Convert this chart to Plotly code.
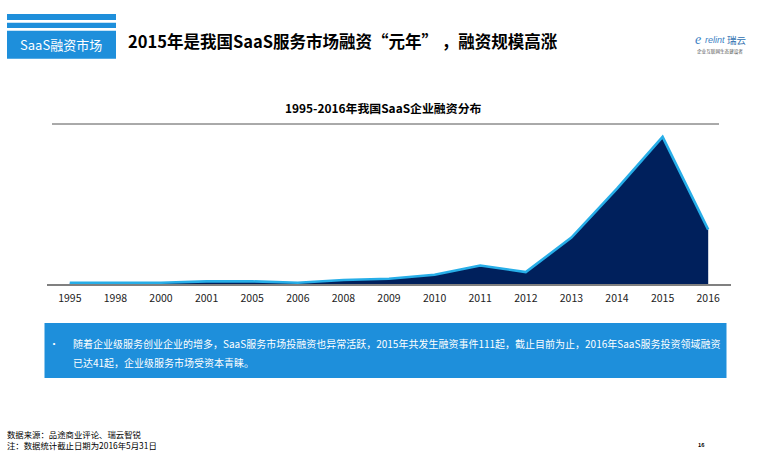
import plotly.graph_objects as go

W = 764
H = 456

years = ["1995", "1998", "2000", "2001", "2005", "2006", "2008", "2009",
         "2010", "2011", "2012", "2013", "2014", "2015", "2016"]
deals = [1, 1, 1, 2, 2, 1, 3, 4, 7, 14, 9, 35, 72, 111, 41]

CJK = "Noto Sans CJK SC"
BLUE = "#1e8fdb"


def px(x):
    return x / W


def py(y):
    return 1 - y / H


def rect(x0, y0, x1, y1, color):
    return dict(type="rect", xref="paper", yref="paper",
                x0=px(x0), x1=px(x1), y0=py(y0), y1=py(y1),
                fillcolor=color, line=dict(width=0), layer="below")


def label(x, y, text, size, color="#000000", anchor="left", family=CJK):
    return dict(xref="paper", yref="paper", x=px(x), y=py(y), text=text,
                showarrow=False, xanchor=anchor, yanchor="middle", align="left",
                font=dict(family=family, size=size, color=color))


fig = go.Figure()

# area with the light blue edge on top
fig.add_trace(go.Scatter(x=years, y=deals, mode="lines", fill="tozeroy",
                         fillcolor="#00205c",
                         line=dict(color="#27aee8", width=2.6),
                         hoverinfo="skip", showlegend=False))

shapes = [
    rect(7, 14, 116, 20, BLUE),
    rect(7, 22.7, 116, 28, BLUE),
    rect(7, 30.7, 116, 58.7, BLUE),
    rect(44.5, 323, 726.5, 378, BLUE),
    # rule under the chart title
    dict(type="line", xref="paper", yref="paper", x0=px(52), x1=px(719),
         y0=py(124), y1=py(124), line=dict(color="#555555", width=1)),
]

annotations = [
    label(61.5, 44.5, "SaaS融资市场", 13, "#ffffff", "center"),
    label(126, 41, "<b>2015年是我国SaaS服务市场融资“元年” ，融资规模高涨</b>", 16.5),
    label(383.5, 107, "<b>1995-2016年我国SaaS企业融资分布</b>", 11.9, anchor="center"),
    label(693, 39.5, "<i>e</i>", 14, "#3a7fc4", family="Liberation Serif"),
    label(703, 40, "<i>relint</i>", 9, "#3a7fc4", family="Liberation Sans"),
    label(725, 39.5, "瑞云", 9.5, "#2f6fb0"),
    label(695, 51.5, "企业互联网生态建设者", 4.6, "#555555"),
    label(47, 343, "•", 10, "#ffffff"),
    label(71, 343, "随着企业级服务创业企业的增多，SaaS服务市场投融资也异常活跃，2015年共发生融资事件111起，截止目前为止，2016年SaaS服务投资领域融资",
          10, "#ffffff"),
    label(71, 362, "已达41起，企业级服务市场受资本青睐。", 10, "#ffffff"),
    label(5, 439.2, "数据来源：品途商业评论、瑞云智锐<br>注：数据统计截止日期为2016年5月31日", 8.4),
    label(701, 445, "<b>16</b>", 5.5, anchor="center"),
]

fig.update_layout(
    width=W, height=H,
    margin=dict(l=0, r=0, t=0, b=0),
    paper_bgcolor="white", plot_bgcolor="white",
    font=dict(family=CJK),
    shapes=shapes,
    annotations=annotations,
    xaxis=dict(domain=[px(47), px(731)], type="category",
               categoryorder="array", categoryarray=years,
               range=[-0.5, 14.5], showgrid=False, zeroline=False,
               showline=True, linecolor="#808080", linewidth=1.5,
               ticks="outside", ticklen=4, tickcolor="rgba(0,0,0,0)",
               tickfont=dict(size=10.5, color="#222222")),
    yaxis=dict(domain=[py(284), py(125)], range=[0, 120], visible=False),
)

fig.write_html("out.html", config=dict(displayModeBar=False),
               post_script="document.body.style.margin='0';")
